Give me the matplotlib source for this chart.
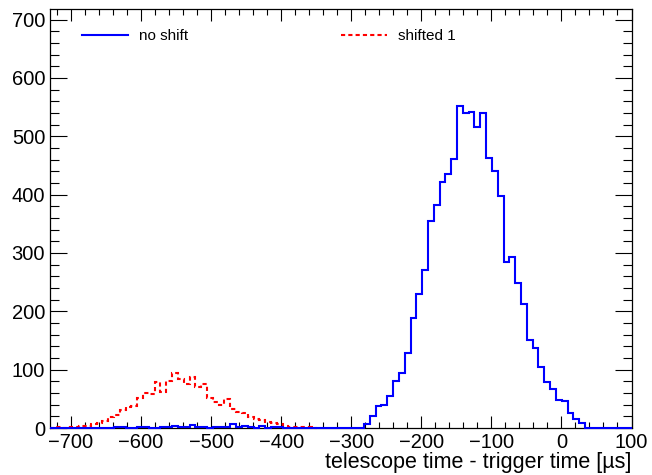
import numpy as np
import matplotlib.pyplot as plt
from matplotlib.ticker import MultipleLocator

# --- histogram binning (100 bins) ---
X_MIN = -730.0
X_MAX = 100.0
N_BINS = 100

# "no shift" bin contents
no_shift = [
    0, 0, 0, 0, 0, 0, 0, 0, 0, 0,
    0, 2, 2, 0, 0, 2, 1, 0, 0, 1,
    1, 3, 1, 1, 5, 1, 1, 0, 1, 1,
    1, 6, 1, 3, 1, 0, 3, 0, 1, 1,
    0, 0, 0, 0, 0, 0, 0, 0, 0, 0,
    0, 0, 0, 0, 7, 20, 38, 40, 54, 81,
    95, 128, 188, 230, 271, 354, 382, 422, 435, 461,
    552, 539, 542, 515, 539, 463, 441, 398, 285, 293,
    249, 212, 151, 137, 105, 79, 66, 48, 47, 26,
    15, 8, 0, 0, 0, 0, 0, 0, 0, 0,
]

# "shifted 1" bin contents (only the filled range, first 46 bins)
shifted_1 = [
    0, 1, 0, 1, 2, 3, 4, 6, 8, 12,
    18, 22, 30, 36, 38, 52, 60, 58, 78, 62,
    80, 94, 84, 76, 88, 70, 76, 52, 45, 40,
    50, 32, 28, 25, 19, 15, 13, 11, 8, 6,
    3, 1, 1, 1, 1, 0,
]

plt.rcParams['font.family'] = ['Liberation Sans', 'DejaVu Sans']

fig = plt.figure(figsize=(6.52, 4.75), dpi=100)
ax = fig.add_axes([50 / 652, 47 / 475, 581.5 / 652, 419 / 475])

edges = np.linspace(X_MIN, X_MAX, N_BINS + 1)
n_red = len(shifted_1)
ax.stairs(shifted_1, edges[:n_red + 1], color='#ff0000', lw=1.5,
          linestyle=(0, (2, 1.5)), label='shifted 1', zorder=3, clip_on=False)
ax.stairs(no_shift, edges, color='#0000ff', lw=1.5,
          label='no shift', zorder=4, clip_on=False)

ax.set_xlim(X_MIN, X_MAX)
ax.set_ylim(0, 718)

ax.xaxis.set_major_locator(MultipleLocator(100))
ax.xaxis.set_minor_locator(MultipleLocator(20))
ax.yaxis.set_major_locator(MultipleLocator(100))
ax.yaxis.set_minor_locator(MultipleLocator(20))

ax.tick_params(which='both', direction='in', top=True, right=True,
               labelsize=14.5, width=0.8)
ax.tick_params(axis='x', which='major', length=8.6, pad=3.5)
ax.tick_params(axis='x', which='minor', length=4.3)
ax.tick_params(axis='y', which='major', length=12.5, pad=3.5)
ax.tick_params(axis='y', which='minor', length=6.2)
for sp in ax.spines.values():
    sp.set_linewidth(0.9)

ax.set_xlabel('telescope time - trigger time [µs]', fontsize=15.5,
              loc='right', labelpad=0)

h, l = ax.get_legend_handles_labels()
ax.legend(h[::-1], l[::-1], loc='center left', bbox_to_anchor=(0.055, 0.935),
          ncol=2, frameon=False, fontsize=11, handlelength=3.0,
          handletextpad=0.75, columnspacing=10.0, borderpad=0, borderaxespad=0)

fig.savefig('out.png', dpi=100)
